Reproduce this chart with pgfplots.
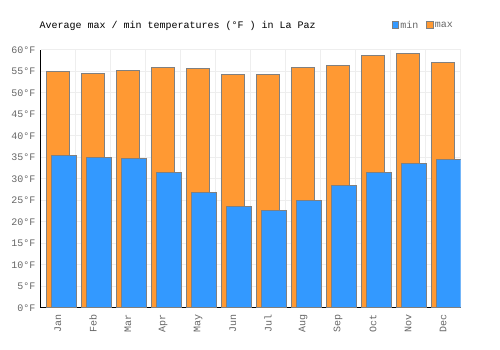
\documentclass[border=0pt]{standalone}
\usepackage{pgfplots}
\pgfplotsset{compat=1.18}
\usepackage{fontspec}
\setmainfont{Liberation Mono}
\definecolor{maxc}{HTML}{FF9933}
\definecolor{minc}{HTML}{3399FF}
\definecolor{gridc}{HTML}{EEEEEE}
\definecolor{txt}{HTML}{666666}
\definecolor{edge}{HTML}{808080}
\begin{document}
\begin{tikzpicture}[x=1pt,y=1pt]
\path (0,0) rectangle (500,350);
\begin{axis}[at={(40.5pt,42pt)}, anchor=south west, scale only axis,
  width=420pt, height=258pt,
  xmin=-0.5, xmax=11.5, ymin=0, ymax=60,
  axis x line*=bottom, axis y line*=left,
  axis line style={-, black, line width=1pt},
  xtick={0,...,11},
  xticklabels={Jan,Feb,Mar,Apr,May,Jun,Jul,Aug,Sep,Oct,Nov,Dec},
  x tick label style={rotate=90, anchor=east, inner sep=0pt, font=\fontsize{10}{12}\selectfont, text=txt},
  xticklabel shift=6pt,
  minor xtick={-0.5,0.5,...,11.5},
  xminorgrids=true, xmajorgrids=false,
  ytick={0,5,...,60},
  yticklabels={0°F,5°F,10°F,15°F,20°F,25°F,30°F,35°F,40°F,45°F,50°F,55°F,60°F},
  y tick label style={anchor=east, inner sep=0pt, font=\fontsize{10}{12}\selectfont, text=txt},
  yticklabel shift=5pt,
  ymajorgrids=true,
  major tick length=0pt, minor tick length=0pt,
  grid style={gridc, line width=1pt},
  minor grid style={gridc, line width=1pt},
  major grid style={gridc, line width=1pt},
  reverse legend,
  legend columns=2,
  legend style={at={(0.836,1.095)}, anchor=west, draw=none, fill=none,
    inner sep=0pt, font=\fontsize{10}{12}\selectfont, text=txt,
    nodes={inner sep=1pt},
    /tikz/every even column/.append style={column sep=7pt}},
  legend image code/.code={\draw[#1, line width=1pt] (0pt,-3.5pt) rectangle (6.5pt,3.5pt);},
]
\addplot[ybar, bar width=23pt, bar shift=0pt, fill=maxc, draw=edge, line width=1pt]
coordinates {(0,54.9) (1,54.6) (2,55.3) (3,56.0) (4,55.8) (5,54.2) (6,54.2) (7,56.0) (8,56.3) (9,58.7) (10,59.1) (11,57.0)};
\addlegendentry{max}
\addplot[ybar, bar width=24.4pt, bar shift=6pt, fill=minc, draw=edge, line width=1pt]
coordinates {(0,35.4) (1,34.9) (2,34.7) (3,31.6) (4,26.9) (5,23.7) (6,22.6) (7,25.1) (8,28.6) (9,31.6) (10,33.5) (11,34.6)};
\addlegendentry{min}
\end{axis}
\node[anchor=west, inner sep=0pt, font=\fontsize{10}{12}\selectfont] at (39.5,324) {Average max / min temperatures (°F ) in La Paz};
\end{tikzpicture}
\end{document}
